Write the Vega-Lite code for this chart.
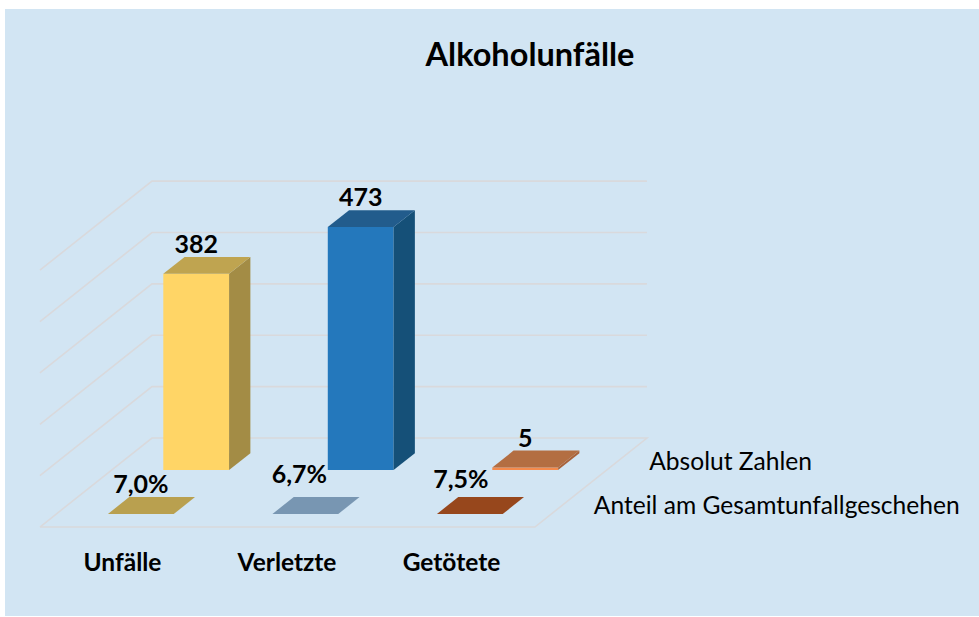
{
  "$schema": "https://vega.github.io/schema/vega-lite/v6.json",
  "width": 974,
  "height": 607,
  "padding": {"left": 5, "top": 9, "right": 0, "bottom": 1},
  "autosize": "none",
  "background": "#ffffff",
  "view": {"fill": "#d2e5f3", "stroke": null},
  "title": {"text": "Alkoholunfälle", "font": "Lato", "fontSize": 32.5, "fontWeight": "bold", "color": "#000000", "anchor": "middle", "dx": 38, "offset": -63},
  "datasets": {
    "bars": [
      {"category": "Unfälle", "idx": 0, "row": "Absolut Zahlen", "value": 382, "label": "382"},
      {"category": "Verletzte", "idx": 1, "row": "Absolut Zahlen", "value": 473, "label": "473"},
      {"category": "Getötete", "idx": 2, "row": "Absolut Zahlen", "value": 5, "label": "5"},
      {"category": "Unfälle", "idx": 0, "row": "Anteil am Gesamtunfallgeschehen", "value": 7.0, "label": "7,0%"},
      {"category": "Verletzte", "idx": 1, "row": "Anteil am Gesamtunfallgeschehen", "value": 6.7, "label": "6,7%"},
      {"category": "Getötete", "idx": 2, "row": "Anteil am Gesamtunfallgeschehen", "value": 7.5, "label": "7,5%"}
    ],
    "ticks": [{"tick": 0}, {"tick": 100}, {"tick": 200}, {"tick": 300}, {"tick": 400}, {"tick": 500}]
  },
  "encoding": {
    "x": {"field": "sx", "type": "quantitative", "axis": null, "scale": {"domain": [-0.7264, 5.1945], "nice": false, "zero": false}},
    "y": {"field": "sy", "type": "quantitative", "axis": null, "scale": {"domain": [-173.25, 1008.4], "nice": false, "zero": false}}
  },
  "layer": [
    {
      "data": {"name": "ticks"},
      "transform": [
        {"calculate": "datum.tick === 0 ? [{u:-0.514,t:0,k:0},{u:2.495,t:0,k:1},{u:2.495,t:1,k:2},{u:-0.514,t:1,k:3},{u:-0.514,t:0,k:4}] : [{u:-0.514,t:0,k:0},{u:-0.514,t:1,k:1},{u:2.495,t:1,k:2}]", "as": "verts"},
        {"flatten": ["verts"]},
        {"calculate": "datum.verts.u + 0.681 * datum.verts.t", "as": "sx"},
        {"calculate": "datum.tick + 173.25 * datum.verts.t", "as": "sy"},
        {"calculate": "datum.verts.k", "as": "k"}
      ],
      "mark": {"type": "line", "stroke": "#d9d9dc", "strokeWidth": 1.6},
      "encoding": {
        "detail": {"field": "tick", "type": "nominal"},
        "order": {"field": "k", "type": "quantitative"}
      }
    },
    {
      "data": {"name": "bars"},
      "transform": [
        {"calculate": "datum.row === 'Absolut Zahlen' ? 0.64 : 0.146", "as": "d0"},
        {"calculate": "datum.row === 'Absolut Zahlen' ? datum.value : datum.value / 100", "as": "h"},
        {"calculate": "[{f:'front',u:-1,t:0,up:0,k:0},{f:'front',u:1,t:0,up:0,k:1},{f:'front',u:1,t:0,up:1,k:2},{f:'front',u:-1,t:0,up:1,k:3},{f:'side',u:1,t:0,up:0,k:0},{f:'side',u:1,t:1,up:0,k:1},{f:'side',u:1,t:1,up:1,k:2},{f:'side',u:1,t:0,up:1,k:3},{f:'top',u:-1,t:0,up:1,k:0},{f:'top',u:1,t:0,up:1,k:1},{f:'top',u:1,t:1,up:1,k:2},{f:'top',u:-1,t:1,up:1,k:3}]", "as": "verts"},
        {"flatten": ["verts"]},
        {"calculate": "datum.idx + 0.2 * datum.verts.u + 0.681 * (datum.d0 + 0.19 * datum.verts.t)", "as": "sx"},
        {"calculate": "datum.verts.up * datum.h + 173.25 * (datum.d0 + 0.19 * datum.verts.t)", "as": "sy"},
        {"calculate": "datum.verts.k", "as": "k"},
        {"calculate": "datum.category + ' ' + (datum.row === 'Absolut Zahlen' ? 'A' : 'B') + ' ' + datum.verts.f", "as": "face"}
      ],
      "mark": {"type": "line", "strokeWidth": 0, "stroke": "transparent"},
      "encoding": {
        "order": {"field": "k", "type": "quantitative"},
        "fill": {
          "field": "face", "type": "nominal", "legend": null,
          "scale": {
            "domain": ["Unfälle A front", "Unfälle A side", "Unfälle A top", "Verletzte A front", "Verletzte A side", "Verletzte A top", "Getötete A front", "Getötete A side", "Getötete A top", "Unfälle B front", "Unfälle B side", "Unfälle B top", "Verletzte B front", "Verletzte B side", "Verletzte B top", "Getötete B front", "Getötete B side", "Getötete B top"],
            "range": ["#ffd566", "#a38c45", "#bfa450", "#2478bc", "#155078", "#225c8c", "#f58a4c", "#a8623a", "#b36e42", "#ffd566", "#a38c45", "#b9a04f", "#8aa8c4", "#6a88a4", "#7896b2", "#b0562a", "#80401c", "#97471c"]
          }
        }
      }
    },
    {
      "data": {"name": "bars"},
      "transform": [
        {"calculate": "datum.row === 'Absolut Zahlen' ? 0.64 : 0.146", "as": "d0"},
        {"calculate": "datum.row === 'Absolut Zahlen' ? datum.value : datum.value / 100", "as": "h"},
        {"calculate": "datum.idx + 0.681 * datum.d0 + (({'6,7%': -0.036, '7,5%': -0.055})[datum.label] || 0)", "as": "sx"},
        {"calculate": "datum.h + 173.25 * (datum.d0 + 0.19) + (({'6,7%': 19.5, '7,5%': 9.7})[datum.label] || 0)", "as": "sy"}
      ],
      "mark": {"type": "text", "font": "Lato", "fontWeight": "bold", "fontSize": 25, "color": "#000000", "baseline": "alphabetic", "align": "center", "dy": -4},
      "encoding": {"text": {"field": "label"}}
    },
    {
      "data": {"name": "bars"},
      "transform": [
        {"filter": "datum.row === 'Absolut Zahlen'"},
        {"calculate": "datum.idx", "as": "sx"},
        {"calculate": "-72", "as": "sy"}
      ],
      "mark": {"type": "text", "font": "Lato", "fontWeight": "bold", "fontSize": 24.5, "color": "#000000", "baseline": "middle", "align": "center", "dx": -2},
      "encoding": {"text": {"field": "category"}}
    },
    {
      "data": {"name": "bars"},
      "transform": [
        {"filter": "datum.idx === 2"},
        {"calculate": "(datum.row === 'Absolut Zahlen' ? 0.64 : 0.146) + 0.095", "as": "dm"},
        {"calculate": "2.495 + 0.2 + 0.681 * datum.dm", "as": "sx"},
        {"calculate": "173.25 * datum.dm - 2", "as": "sy"}
      ],
      "mark": {"type": "text", "font": "Lato", "fontSize": 24.6, "color": "#000000", "baseline": "middle", "align": "left", "dx": -1},
      "encoding": {"text": {"field": "row"}}
    }
  ]
}
